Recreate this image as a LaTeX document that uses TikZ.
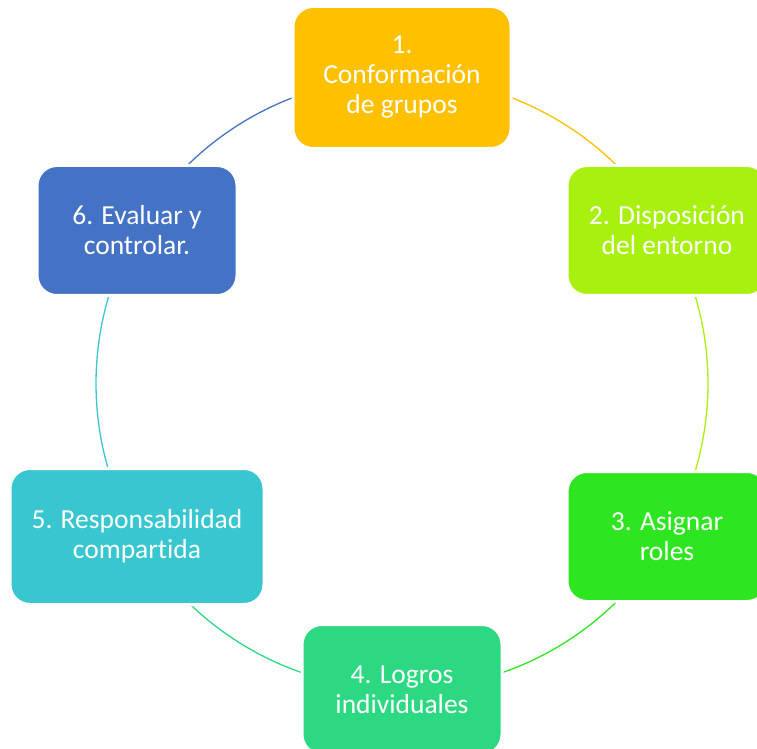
\documentclass[tikz,border=0pt]{standalone}
\usepackage{fontspec}
\setmainfont[Ligatures={TeX,NoCommon},RawFeature={-liga;-calt;-dlig}]{Carlito}
\usepackage{tikz}
\usetikzlibrary{backgrounds}

\definecolor{stepone}{RGB}{255,192,0}
\definecolor{steptwo}{RGB}{168,240,14}
\definecolor{stepthree}{RGB}{46,230,32}
\definecolor{stepfour}{RGB}{44,217,130}
\definecolor{stepfive}{RGB}{56,198,208}
\definecolor{stepsix}{RGB}{68,114,196}

\begin{document}
\begin{tikzpicture}[x=1pt,y=1pt]
        \tikzstyle{every node}+=[inner sep=0pt]
        \tikzstyle{phase}=[rectangle, rounded corners=20pt, draw=white, line width=3pt,
                text=white, align=center, font=\fontsize{27.5}{30}\selectfont,
                minimum width=200pt, minimum height=130pt]
        \tikzstyle{ring}=[line width=1.3pt]
        \useasboundingbox (0,0) rectangle (757,748);
        \coordinate (c) at (402,364.5);
        \node [phase, fill=stepone, minimum width=218pt, minimum height=142pt] (n1) at (402,670.5) {1.\\Conformación\\de grupos};
        \node [phase, fill=steptwo] (n2) at (667,517.5) {2. Disposición\\del entorno};
        \node [phase, fill=stepthree] (n3) at (667,211.5) {3. Asignar\\roles};
        \node [phase, fill=stepfour] (n4) at (402,58.5) {4. Logros\\individuales};
        \node [phase, fill=stepfive, minimum width=254pt, minimum height=136pt] (n5) at (137,211.5) {5. Responsabilidad\\compartida};
        \node [phase, fill=stepsix] (n6) at (137,517.5) {6. Evaluar y\\controlar.};
        \begin{scope}[on background layer]
        \draw [ring, stepone] (n1.center) arc [start angle=90, end angle=30, radius=306];
        \draw [ring, steptwo] (n2.center) arc [start angle=30, end angle=-30, radius=306];
        \draw [ring, stepthree] (n3.center) arc [start angle=-30, end angle=-90, radius=306];
        \draw [ring, stepfour] (n4.center) arc [start angle=-90, end angle=-150, radius=306];
        \draw [ring, stepfive] (n5.center) arc [start angle=210, end angle=150, radius=306];
        \draw [ring, stepsix] (n6.center) arc [start angle=150, end angle=90, radius=306];
        \end{scope}
\end{tikzpicture}
\end{document}
